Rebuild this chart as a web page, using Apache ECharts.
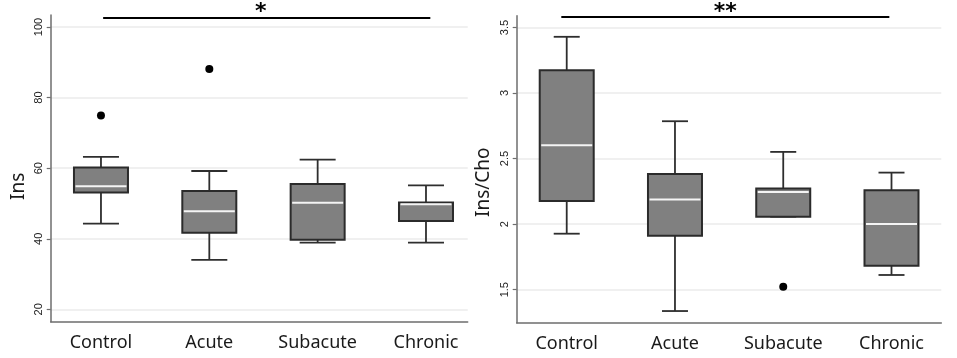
<!DOCTYPE html>
<html>
<head>
<meta charset="utf-8">
<script src="https://cdn.jsdelivr.net/npm/echarts@6/dist/echarts.min.js"></script>
<style>html,body{margin:0;padding:0;background:#fff}#c{width:957px;height:358px}</style>
</head>
<body>
<div id="c"></div>
<script>
// ---- data ----
var categories = ['Control', 'Acute', 'Subacute', 'Chronic'];
// [low whisker, Q1, median, Q3, high whisker]
var insBoxes = [
  [44.3, 53.1, 54.9, 60.2, 63.2],
  [34.0, 41.7, 47.8, 53.5, 59.2],
  [38.9, 39.7, 50.2, 55.5, 62.4],
  [38.9, 45.0, 49.8, 50.3, 55.1]
];
var insOutliers = [[1, 74.9], [2, 88.1]];
var insTicks = [20, 40, 60, 80, 100];
var insSig = { from: 1.02, to: 4.04, y: 102.7, text: '*' };

var ratioBoxes = [
  [1.927, 2.177, 2.602, 3.174, 3.429],
  [1.337, 1.912, 2.187, 2.383, 2.785],
  [2.057, 2.057, 2.246, 2.271, 2.551],
  [1.612, 1.683, 2.001, 2.258, 2.393]
];
var ratioOutliers = [[3, 1.523]];
var ratioTicks = [1.5, 2, 2.5, 3, 3.5];
var ratioSig = { from: 0.95, to: 3.98, y: 3.58, text: '**' };

var catPositions = [1, 2, 3, 4];

function boxData(boxes) {
  return boxes.map(function (b, i) { return [catPositions[i]].concat(b); });
}

function makeRender(capW) {
  return function (params, api) {
    var x = api.value(0);
    var low = api.coord([x, api.value(1)]);
    var q1 = api.coord([x, api.value(2)]);
    var med = api.coord([x, api.value(3)]);
    var q3 = api.coord([x, api.value(4)]);
    var high = api.coord([x, api.value(5)]);
    var bw = 54, h = bw / 2, c = capW / 2;
    var cx = low[0];
    var wStyle = { stroke: '#2e2e2e', lineWidth: 1.8 };
    return {
      type: 'group',
      children: [
        { type: 'line', shape: { x1: cx, y1: high[1], x2: cx, y2: q3[1] }, style: wStyle },
        { type: 'line', shape: { x1: cx, y1: q1[1], x2: cx, y2: low[1] }, style: wStyle },
        { type: 'line', shape: { x1: cx - c, y1: high[1], x2: cx + c, y2: high[1] }, style: wStyle },
        { type: 'line', shape: { x1: cx - c, y1: low[1], x2: cx + c, y2: low[1] }, style: wStyle },
        { type: 'rect', shape: { x: cx - h, y: q3[1], width: bw, height: q1[1] - q3[1] },
          style: { fill: '#808080', stroke: '#2b2b2b', lineWidth: 2 } },
        { type: 'line', shape: { x1: cx - h + 1.5, y1: med[1], x2: cx + h - 1.5, y2: med[1] },
          style: { stroke: '#f4f4f4', lineWidth: 2 } }
      ]
    };
  };
}

function sigMark(s, padR) {
  return {
    silent: true,
    symbol: 'none',
    lineStyle: { color: '#000', width: 2, type: 'solid', opacity: 1 },
    label: { show: true, position: 'insideMiddleTop', formatter: s.text, color: '#000',
      fontSize: 22, fontWeight: 'bold', fontFamily: 'DejaVu Sans', distance: -6,
      padding: [0, padR, 0, 0] },
    emphasis: { disabled: true },
    data: [[{ coord: [s.from, s.y] }, { coord: [s.to, s.y] }]]
  };
}

var axisLineStyle = { color: '#6e6e6e', width: 1.5 };

function xAxisCfg(gi, min, max) {
  return {
    type: 'value', gridIndex: gi, min: min, max: max,
    axisLine: { show: true, onZero: false, lineStyle: axisLineStyle },
    axisTick: { show: false },
    splitLine: { show: false },
    axisLabel: {
      customValues: catPositions,
      formatter: function (v) { return categories[Math.round(v) - 1]; },
      fontFamily: 'Noto Sans', fontSize: 18, color: '#1a1a1a', margin: 12
    }
  };
}

function yAxisCfg(gi, min, max, ticks, name, pad, fmt) {
  return {
    type: 'value', gridIndex: gi, min: min, max: max,
    name: name, nameLocation: 'middle', nameGap: pad.gap,
    nameTextStyle: { fontFamily: 'Noto Sans', fontSize: 19, color: '#1a1a1a', padding: [0, pad.shift, 0, 0] },
    axisLine: { show: true, onZero: false, lineStyle: axisLineStyle },
    axisTick: { show: true, customValues: ticks, length: 4, lineStyle: { color: '#6e6e6e', width: 1.2 } },
    axisLabel: { customValues: ticks, rotate: 90, margin: 6, fontFamily: 'Liberation Sans',
      fontSize: 11, color: '#222', formatter: fmt },
    splitLine: { show: true, customValues: ticks, lineStyle: { color: '#ebebeb', width: 1.5 } }
  };
}

var chart = echarts.init(document.getElementById('c'), null, { renderer: 'canvas' });
chart.setOption({
  backgroundColor: '#ffffff',
  animation: false,
  grid: [
    { left: 50.7, right: 489.3, top: 15, bottom: 36.3 },
    { left: 516.7, right: 15.7, top: 15.7, bottom: 35.3 }
  ],
  xAxis: [xAxisCfg(0, 0.536, 4.385), xAxisCfg(1, 0.538, 4.46)],
  yAxis: [
    yAxisCfg(0, 16.5, 103.4, insTicks, 'Ins', { gap: 23, shift: 36 }, function (v) { return String(v); }),
    yAxisCfg(1, 1.248, 3.59, ratioTicks, 'Ins/Cho', { gap: 24, shift: 26 }, function (v) { return String(v); })
  ],
  series: [
    { type: 'custom', xAxisIndex: 0, yAxisIndex: 0, renderItem: makeRender(36),
      encode: { x: 0, y: [1, 2, 3, 4, 5] }, data: boxData(insBoxes), clip: false, z: 3 },
    { type: 'scatter', xAxisIndex: 0, yAxisIndex: 0, data: insOutliers, symbol: 'circle', symbolSize: 8,
      itemStyle: { color: '#000', opacity: 1 }, z: 4, markLine: sigMark(insSig, 12) },
    { type: 'custom', xAxisIndex: 1, yAxisIndex: 1, renderItem: makeRender(26),
      encode: { x: 0, y: [1, 2, 3, 4, 5] }, data: boxData(ratioBoxes), clip: false, z: 3 },
    { type: 'scatter', xAxisIndex: 1, yAxisIndex: 1, data: ratioOutliers, symbol: 'circle', symbolSize: 8,
      itemStyle: { color: '#000', opacity: 1 }, z: 4, markLine: sigMark(ratioSig, 0) }
  ]
});
</script>
</body>
</html>
